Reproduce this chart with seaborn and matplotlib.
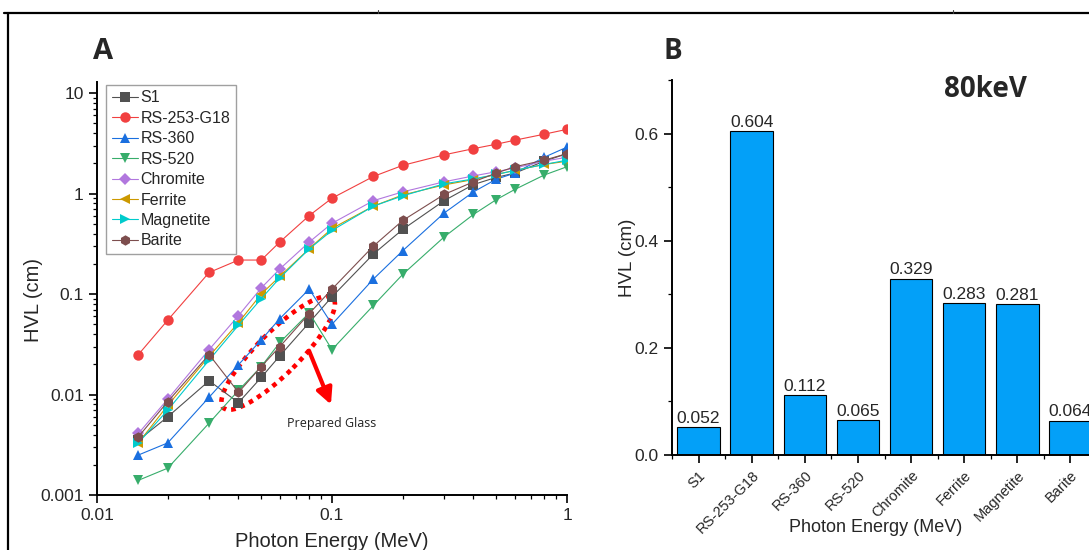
import numpy as np
import pandas as pd
import seaborn as sns
import matplotlib.pyplot as plt
from matplotlib.patches import Ellipse
from matplotlib.lines import Line2D
from matplotlib.ticker import FuncFormatter, LogLocator, MultipleLocator
from matplotlib.transforms import ScaledTranslation

sns.set_style('ticks')
plt.rcParams['font.family'] = ['Liberation Sans', 'DejaVu Sans']

# photon energies (MeV)
energy = [0.015, 0.02, 0.03, 0.04, 0.05, 0.06, 0.08, 0.1, 0.15, 0.2, 0.3, 0.4, 0.5, 0.6, 0.8, 1.0]

s1 = [0.0035, 0.006, 0.0137, 0.0083, 0.0148, 0.0243, 0.052, 0.094, 0.25, 0.44, 0.85, 1.23, 1.45, 1.6, 2.1, 2.5]
rs253 = [0.025, 0.055, 0.164, 0.218, 0.218, 0.33, 0.604, 0.90, 1.48, 1.91, 2.43, 2.8, 3.1, 3.4, 3.9, 4.36]
rs360 = [0.0025, 0.0033, 0.0094, 0.0198, 0.035, 0.057, 0.112, 0.05, 0.141, 0.27, 0.64, 1.04, 1.39, 1.6, 2.3, 2.9]
rs520 = [0.0014, 0.00185, 0.0052, 0.011, 0.019, 0.033, 0.065, 0.028, 0.077, 0.157, 0.37, 0.62, 0.87, 1.1, 1.53, 1.85]
chromite = [0.0041, 0.009, 0.028, 0.061, 0.115, 0.178, 0.329, 0.506, 0.85, 1.04, 1.31, 1.5, 1.65, 1.8, 2.1, 2.3]
ferrite = [0.0033, 0.0078, 0.024, 0.052, 0.1, 0.15, 0.283, 0.45, 0.75, 0.97, 1.22, 1.38, 1.55, 1.7, 1.95, 2.1]
magnetite = [0.0033, 0.007, 0.022, 0.049, 0.09, 0.145, 0.281, 0.43, 0.75, 0.95, 1.25, 1.4, 1.55, 1.7, 1.95, 2.15]
barite = [0.0038, 0.0085, 0.025, 0.0105, 0.019, 0.03, 0.064, 0.112, 0.30, 0.54, 0.98, 1.31, 1.6, 1.85, 2.15, 2.5]

names = ['S1', 'RS-253-G18', 'RS-360', 'RS-520', 'Chromite', 'Ferrite', 'Magnetite', 'Barite']
series = [s1, rs253, rs360, rs520, chromite, ferrite, magnetite, barite]
colors = ['#515151', '#F14040', '#1A6FDF', '#37AD6B', '#B177DE', '#CC9900', '#00CBCC', '#7D4E4E']
markers = ['s', 'o', '^', 'v', 'D', '<', '>', 'h']
msizes = [7, 7.5, 7.5, 7.5, 6, 7.5, 7.5, 7.5]

# HVL at 80 keV
bar_hvl = [0.052, 0.604, 0.112, 0.065, 0.329, 0.283, 0.281, 0.064]

fig = plt.figure(figsize=(10.89, 5.5), dpi=100)
ax1 = fig.add_axes([97 / 1089, 1 - 495 / 550, 470 / 1089, 413 / 550])
ax2 = fig.add_axes([672 / 1089, 1 - 455 / 550, 425 / 1089, 375 / 550])

# ---- panel A ----
for name, vals, c, m, ms in zip(names, series, colors, markers, msizes):
    sns.lineplot(x=energy, y=vals, ax=ax1, color=c, marker=m, markersize=ms,
                 markeredgewidth=0, linewidth=0.8, label=name)
ax1.set_xscale('log')
ax1.set_yscale('log')
ax1.set_xlim(0.01, 1)
ax1.set_ylim(0.001, 12.9)
ax1.yaxis.set_major_locator(LogLocator(base=10, numticks=10))
ax1.yaxis.set_minor_locator(LogLocator(base=10, subs=np.arange(2, 10), numticks=10))
fmt = FuncFormatter(lambda v, p: '{:g}'.format(v))
ax1.xaxis.set_major_formatter(fmt)
ax1.yaxis.set_major_formatter(fmt)
ax1.tick_params(which='major', direction='out', length=6, width=1.2, labelsize=12.5, color='black')
ax1.tick_params(which='minor', direction='out', length=3, width=0.9, color='black')
ax1.set_xlabel('Photon Energy (MeV)', fontsize=14.5, labelpad=6)
ax1.set_ylabel('HVL (cm)', fontsize=14.5)
ax1.yaxis.set_label_coords(-0.115, 0.472)
for sp in ['top', 'right']:
    ax1.spines[sp].set_visible(False)
for sp in ['left', 'bottom']:
    ax1.spines[sp].set_linewidth(1.4)
    ax1.spines[sp].set_color('black')

leg = ax1.legend(loc='upper left', bbox_to_anchor=(0.02, 0.993), borderaxespad=0,
                 fontsize=11.5, handlelength=1.6, labelspacing=0.34, handletextpad=0.2,
                 borderpad=0.35, frameon=True, fancybox=False)
leg.get_frame().set_edgecolor('#888888')
leg.get_frame().set_linewidth(1.0)

# annotation around the prepared glasses
anchor = ScaledTranslation(0.059, 0.0259, ax1.transData)
ell = Ellipse((0, 0), 1.55, 0.42, angle=45, transform=fig.dpi_scale_trans + anchor,
              fill=False, edgecolor='red', linestyle=(0, (1, 1.1)), linewidth=3.3)
ax1.add_patch(ell)
ax1.annotate('', xy=(0.1, 0.0075), xytext=(0.079, 0.029),
             arrowprops=dict(arrowstyle='-|>', color='red', lw=3, mutation_scale=24))
ax1.text(0.1, 0.0052, 'Prepared Glass', fontsize=9, family=['Open Sans', 'DejaVu Sans'],
         ha='center', va='center', color='#222222')

# ---- panel B ----
sns.barplot(x=names, y=bar_hvl, ax=ax2, color='#03A0F8', saturation=1,
            edgecolor='black', linewidth=0.8, width=0.8)
ax2.bar_label(ax2.containers[0], labels=['{:.3f}'.format(v) for v in bar_hvl],
              fontsize=12.5, padding=1)
ax2.set_xlim(-0.5, 7.5)
ax2.set_ylim(0, 0.7)
ax2.yaxis.set_major_locator(MultipleLocator(0.2))
ax2.yaxis.set_minor_locator(MultipleLocator(0.1))
ax2.yaxis.set_major_formatter(FuncFormatter(lambda v, p: '{:.1f}'.format(v)))
ax2.set_xticks(range(len(names)))
ax2.set_xticks(np.arange(-0.5, 8, 1.0), minor=True)
ax2.set_xticklabels(names, rotation=45, ha='right', rotation_mode='anchor', fontsize=10.5)
ax2.tick_params(which='major', direction='out', length=6, width=1.2, labelsize=12.5, color='black')
ax2.tick_params(axis='x', which='major', labelsize=10.5)
ax2.tick_params(which='minor', direction='out', length=3, width=0.9, color='black')
ax2.set_xlabel('Photon Energy (MeV)', fontsize=13)
ax2.xaxis.set_label_coords(0.478, -0.17)
ax2.set_ylabel('HVL (cm)', fontsize=13.5)
ax2.yaxis.set_label_coords(-0.085, 0.525)
for sp in ['top', 'right']:
    ax2.spines[sp].set_visible(False)
for sp in ['left', 'bottom']:
    ax2.spines[sp].set_linewidth(1.4)
    ax2.spines[sp].set_color('black')

# panel letters and title
bold = ['Open Sans', 'DejaVu Sans']
fig.text(93 / 1089, 1 - 52 / 550, 'A', fontsize=21, fontweight='bold', family=bold, va='center')
fig.text(664 / 1089, 1 - 52 / 550, 'B', fontsize=20, fontweight='bold', family=bold, va='center')
fig.text(985 / 1089, 1 - 90 / 550, '80keV', fontsize=20, fontweight='bold', family=bold,
         ha='center', va='center')

# table cell frame around the figure
fig.add_artist(Line2D([4 / 1089, 1], [1 - 13 / 550] * 2, color='black', lw=1.6))
fig.add_artist(Line2D([8 / 1089] * 2, [0, 1 - 13 / 550], color='black', lw=1.6))
for xp in [378, 953]:
    fig.add_artist(Line2D([xp / 1089] * 2, [1 - 13 / 550, 1 - 10 / 550], color='#444444', lw=0.8))

fig.savefig('out.png', dpi=100)
